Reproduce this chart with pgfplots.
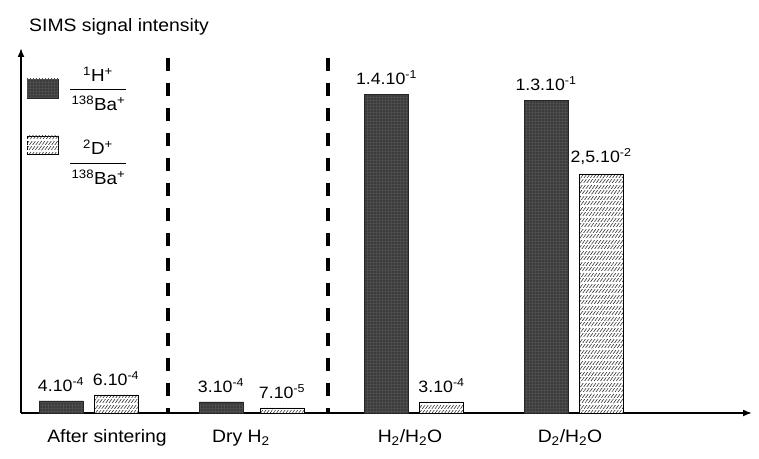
\documentclass[border=0pt]{standalone}
\usepackage{pgfplots}
\pgfplotsset{compat=1.18}
\usepackage{fontspec}
\setmainfont{Liberation Sans}[FakeStretch=1.08]
\usetikzlibrary{arrows.meta,patterns,patterns.meta}
\definecolor{darkbar}{RGB}{58,58,58}
\tikzset{
  darkfill/.style={draw=black!85, line width=0.6bp, fill=darkbar,
    postaction={pattern=grid, pattern color=black!70}},
  hatchfill/.style={draw=black, line width=0.6bp, fill=white,
    postaction={pattern={Lines[angle=55, distance=2.6bp, line width=0.6bp]}, pattern color=black!80},
    postaction={pattern={Lines[angle=0, distance=5.5bp, line width=1.5bp]}, pattern color=white}},
}
\begin{document}
\begin{tikzpicture}[x=1bp,y=1bp]
\path (0,0) rectangle (759,459);
\begin{axis}[
  at={(21bp,46bp)}, anchor=south west,
  x=1bp, y=1bp,
  xmin=0, xmax=731, ymin=0, ymax=365,
  axis lines=left,
  axis line style={line width=1.7bp, -{Latex[length=9bp,width=7bp]}},
  xtick=\empty, ytick=\empty,
  clip=false,
  nodes near coords style={font=\fontsize{16.5}{19}\selectfont, anchor=south, inner sep=0pt, yshift=9bp},
]
\addplot[ybar, bar width=44, darkfill,
  nodes near coords, point meta=explicit symbolic]
coordinates {
  (40,12) [4.10\textsuperscript{-4}]
  (200,11) [3.10\textsuperscript{-4}]
  (365.5,318.6) [1.4.10\textsuperscript{-1}]
  (525,312.6) [1.3.10\textsuperscript{-1}]
};
\addplot[ybar, bar width=44, hatchfill,
  nodes near coords, point meta=explicit symbolic]
coordinates {
  (95,18) [6.10\textsuperscript{-4}]
  (261,5) [7.10\textsuperscript{-5}]
  (420.5,11) [3.10\textsuperscript{-4}]
  (580,239) [2,5.10\textsuperscript{-2}]
};
% legend keys
\path[darkfill] (axis cs:6,315) rectangle (axis cs:37,334);
\path[hatchfill] (axis cs:6,259) rectangle (axis cs:37,277);
\draw[line width=0.8bp] (axis cs:49,324) -- (axis cs:105,324);
\draw[line width=0.8bp] (axis cs:49,250) -- (axis cs:105,250);
\begin{scope}[every node/.style={anchor=base, inner sep=0pt, font=\fontsize{17.5}{20}\selectfont}]
\node at (axis cs:77,331) {\textsuperscript{1}H\textsuperscript{+}};
\node at (axis cs:77.5,302) {\textsuperscript{138}Ba\textsuperscript{+}};
\node at (axis cs:77,258) {\textsuperscript{2}D\textsuperscript{+}};
\node at (axis cs:77.5,228) {\textsuperscript{138}Ba\textsuperscript{+}};
\end{scope}
% separators
\draw[line width=3.8bp, dash pattern=on 13bp off 12bp] (axis cs:147,355) -- (axis cs:147,0);
\draw[line width=3.8bp, dash pattern=on 13bp off 12bp] (axis cs:307,355) -- (axis cs:307,0);
% title and category labels
\node[anchor=base west, inner sep=0pt, font=\fontsize{18}{20}\selectfont] at (axis cs:8,381) {SIMS signal intensity};
\node[anchor=base, font=\fontsize{18}{20}\selectfont] at (axis cs:86,-30) {After sintering};
\node[anchor=base, font=\fontsize{18}{20}\selectfont] at (axis cs:220,-30) {Dry H\textsubscript{2}};
\node[anchor=base, font=\fontsize{18}{20}\selectfont] at (axis cs:389,-30) {H\textsubscript{2}/H\textsubscript{2}O};
\node[anchor=base, font=\fontsize{18}{20}\selectfont] at (axis cs:549,-30) {D\textsubscript{2}/H\textsubscript{2}O};
\end{axis}
\end{tikzpicture}
\end{document}
